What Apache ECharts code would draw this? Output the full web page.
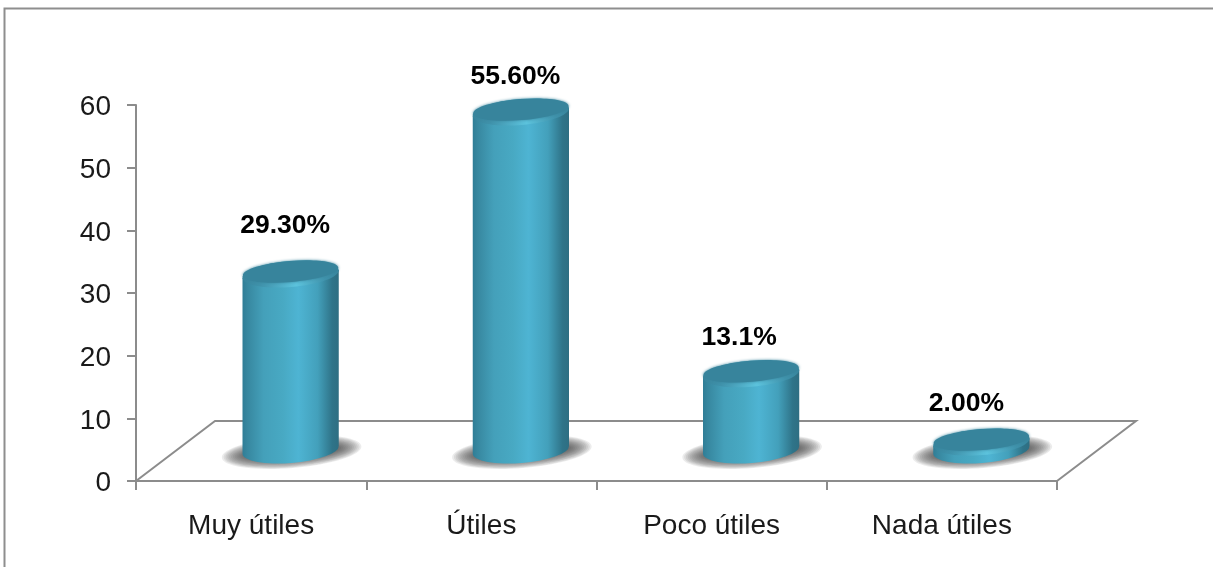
<!DOCTYPE html>
<html>
<head>
<meta charset="utf-8">
<style>html,body{margin:0;padding:0;background:#fff}#c{width:1213px;height:567px}</style>
<script src="https://cdn.jsdelivr.net/npm/echarts@6/dist/echarts.min.js"></script>
</head>
<body>
<div id="c"></div>
<script>
const categories = ['Muy útiles', 'Útiles', 'Poco útiles', 'Nada útiles'];
const values = [29.3, 55.6, 13.1, 2.0];
const valueLabels = ['29.30%', '55.60%', '13.1%', '2.00%'];
const yTicks = [0, 10, 20, 30, 40, 50, 60];

// Layout of the pseudo-3D floor and its cylinders (not data)
const DEPTH_X = 79, DEPTH_Y = 60;
const labelNudge = [[-5.5, -48], [-5.5, -35], [-12, -36], [-15, -38]];
const TILT = 0.082, RY = 13, BAR_FRAC = 0.418, PERSP = 0.9825;
const GREY = '#8c8c8c';
const FONT = '"Liberation Sans", Arial, sans-serif';

function grad(stops, x2, y2) {
  return { type: 'linear', x: 0, y: 0, x2: x2, y2: y2, global: false,
    colorStops: stops.map(s => ({ offset: s[0], color: s[1] })) };
}
const bodyStops = [[0, '#2f7d96'], [0.05, '#37879f'], [0.22, '#44a0ba'], [0.42, '#48a9c3'], [0.58, '#4eb4d3'], [0.78, '#43a0bb'], [0.93, '#2f7489'], [1, '#2e6e82']];

function renderFloor(params, api) {
  const cs = params.coordSys;
  const x0 = cs.x, x1 = cs.x + cs.width, y = api.coord([0, 0])[1];
  return {
    type: 'polyline',
    shape: { points: [[x0, y], [x0 + DEPTH_X, y - DEPTH_Y], [x1 + DEPTH_X, y - DEPTH_Y], [x1, y]] },
    style: { stroke: GREY, lineWidth: 2, fill: 'none' }, silent: true
  };
}

function renderCylinder(params, api) {
  const i = api.value(0), v = api.value(1);
  const p = api.coord([i, v]), p0 = api.coord([i, 0]);
  const w = api.size([1, 0])[0] * BAR_FRAC;
  const cx = p0[0] + DEPTH_X / 2;
  const yFront = p0[1];
  const topY = yFront - 26.6 + (p[1] - yFront) * PERSP;
  const baseY = yFront - 31;
  const rx = w / 2 / Math.cos(TILT), dy = (w / 2) * Math.tan(TILT);
  const xl = cx - w / 2, xr = cx + w / 2;
  const deg = -TILT * 180 / Math.PI;
  const body = `M ${xl} ${topY + dy} L ${xl} ${baseY + dy} A ${rx} ${RY} ${deg} 0 0 ${xr} ${baseY - dy} L ${xr} ${topY - dy} Z`;
  const el = (c, y, a, b, style) => ({
    type: 'ellipse', shape: { cx: c, cy: y, rx: a, ry: b },
    originX: c, originY: y, rotation: TILT, style: style
  });
  const shadow = [];
  for (let k = 0; k < 14; k++) {
    const t = k / 13;
    shadow.push(el(cx + 1, baseY + 2, 70 - 24 * t, 16 - 10 * t, { fill: 'rgba(70,70,70,0.1)' }));
  }
  const nudge = labelNudge[i];
  return {
    type: 'group',
    children: shadow.concat([
      { type: 'path', shape: { pathData: body }, style: { fill: grad(bodyStops, 1, 0) } },
      el(cx, topY, rx, RY, { fill: grad([[0, '#37849c'], [0.18, '#3f92ab'], [0.55, '#5cc3dd'], [0.85, '#3f92ab'], [1, '#37849c']], 1, 0) }),
      el(cx, topY - 2.5, rx - 0.5, RY - 2.5, { fill: '#37849c', shadowBlur: 3, shadowColor: '#37849c' }),
      { type: 'text', style: {
          text: valueLabels[i], x: cx + nudge[0], y: topY + nudge[1],
          align: 'center', verticalAlign: 'middle', textAlign: 'center', textVerticalAlign: 'middle',
          fill: '#000', font: 'bold 26.5px ' + FONT } }
    ])
  };
}

const chart = echarts.init(document.getElementById('c'), null, { renderer: 'canvas' });
chart.setOption({
  animation: false,
  backgroundColor: '#fff',
  grid: { left: 136, right: 156, top: 105, bottom: 86, containLabel: false },
  graphic: [{
    type: 'polyline', silent: true, z: -1,
    shape: { points: [[4.5, 570], [4.5, 8.5], [1216, 8.5]] },
    style: { stroke: '#8e8e8e', lineWidth: 2, fill: 'none' }
  }],
  xAxis: {
    type: 'category', data: categories, boundaryGap: true,
    axisLine: { lineStyle: { color: GREY, width: 2 } },
    axisTick: { show: true, length: 9, alignWithLabel: false, lineStyle: { color: GREY, width: 2 } },
    axisLabel: { color: '#1a1a1a', fontSize: 28, fontFamily: FONT, margin: 31, interval: 0 }
  },
  yAxis: {
    type: 'value', min: yTicks[0], max: yTicks[yTicks.length - 1], interval: 10,
    splitLine: { show: false },
    axisLine: { show: true, lineStyle: { color: GREY, width: 2 } },
    axisTick: { show: true, length: 9, lineStyle: { color: GREY, width: 2 } },
    axisLabel: { color: '#1a1a1a', fontSize: 28, fontFamily: FONT, margin: 25, verticalAlign: 'top', lineHeight: 5 }
  },
  series: [
    { type: 'custom', name: 'floor', z: 1, silent: true, renderItem: renderFloor, data: [[0, 0]], clip: false },
    { type: 'custom', name: 'Valores', z: 3, renderItem: renderCylinder, clip: false,
      encode: { x: 0, y: 1 },
      data: values.map((v, i) => [i, v]) }
  ]
});
</script>
</body>
</html>
